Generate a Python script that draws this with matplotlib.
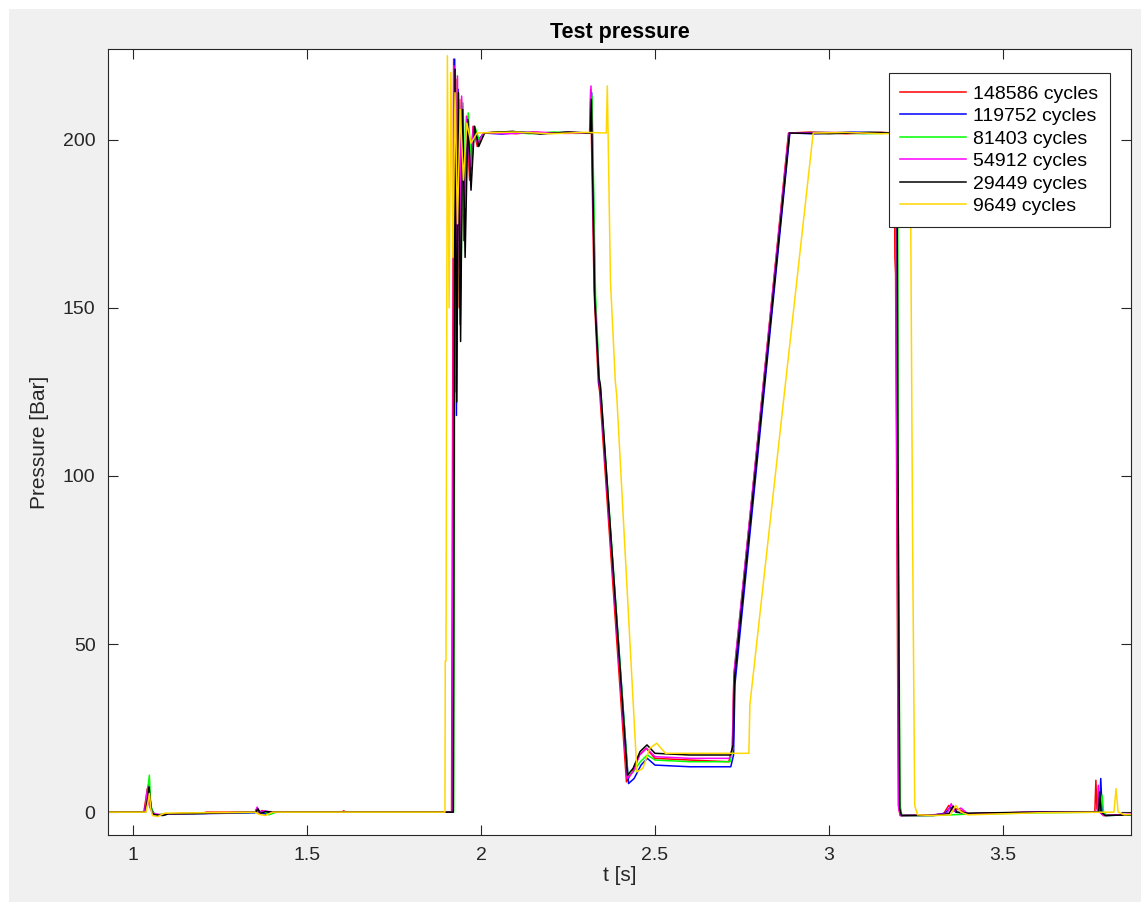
import numpy as np
from matplotlib import pyplot as plt
from matplotlib.patches import Rectangle

# pressure traces (t [s], p [bar])
c148586 = [(0.92, 0), (1.030, 0), (1.036, 4), (1.040, 7), (1.044, 3), (1.050, 1), (1.058, -0.5), (1.070, -0.8),
           (1.100, -0.5), (1.200, -0.3), (1.210, 0), (1.350, 0), (1.355, 0.8), (1.360, -0.3), (1.370, 0.5),
           (1.380, -0.6), (1.400, 0), (1.600, 0), (1.605, 0.4), (1.610, 0), (1.915, 0),
           (1.921, 224), (1.926, 125), (1.931, 218), (1.937, 150), (1.943, 212), (1.950, 170), (1.958, 207),
           (1.967, 188), (1.977, 204), (1.989, 198), (2.006, 202),
           (2.050, 202.4), (2.100, 201.8), (2.150, 202.3), (2.200, 201.9), (2.250, 202.2), (2.312, 202),
           (2.315, 215), (2.325, 155), (2.337, 128), (2.341, 125), (2.418, 9), (2.435, 12), (2.455, 17),
           (2.475, 19), (2.500, 16), (2.600, 15.5), (2.712, 15), (2.722, 18), (2.727, 40), (2.884, 202),
           (2.950, 202.3), (3.050, 201.8), (3.150, 202.2), (3.188, 202), (3.190, 165), (3.192, 160),
           (3.200, 2), (3.205, -1), (3.300, -0.8), (3.330, -0.5), (3.345, 2), (3.355, 0.5), (3.370, 1),
           (3.400, -0.5), (3.500, -0.2), (3.600, 0), (3.765, 0), (3.768, 9.5), (3.771, 1), (3.780, 0),
           (3.790, -1), (3.870, -0.7)]
c119752 = [(0.92, 0), (1.032, 0), (1.040, 5), (1.044, 8.3), (1.048, 4), (1.052, 1), (1.060, -0.6), (1.080, -0.9),
           (1.100, -0.6), (1.350, -0.2), (1.356, 1.2), (1.362, 0.3), (1.375, -0.5), (1.390, 0), (1.919, 0),
           (1.924, 224), (1.929, 118), (1.934, 215), (1.940, 145), (1.946, 210), (1.953, 175), (1.961, 206),
           (1.970, 190), (1.980, 203), (1.992, 200), (2.009, 202),
           (2.060, 201.7), (2.120, 202.3), (2.180, 201.9), (2.240, 202.2), (2.315, 202), (2.318, 214),
           (2.328, 153), (2.340, 127), (2.344, 124), (2.424, 8.5), (2.440, 10), (2.460, 14), (2.478, 16),
           (2.500, 14), (2.600, 13.5), (2.718, 13.5), (2.726, 17), (2.730, 38), (2.888, 202),
           (2.960, 201.8), (3.060, 202.3), (3.196, 202), (3.198, 100), (3.203, 3), (3.208, -1),
           (3.300, -0.9), (3.335, -0.3), (3.350, 1.5), (3.365, 0), (3.400, -0.5), (3.600, 0), (3.778, 0),
           (3.782, 10), (3.786, 0.5), (3.795, -1), (3.870, -0.8)]
c81403 = [(0.92, 0), (1.034, 0), (1.040, 6), (1.046, 11), (1.050, 2), (1.056, 0), (1.065, -0.8), (1.100, -0.5),
          (1.380, 0), (1.390, -0.8), (1.410, 0), (1.921, 0),
          (1.926, 220), (1.931, 140), (1.936, 212), (1.942, 155), (1.948, 211), (1.955, 180), (1.963, 208),
          (1.972, 192), (1.982, 204), (1.994, 200), (2.011, 202),
          (2.070, 202.4), (2.140, 201.8), (2.210, 202.3), (2.270, 201.9), (2.316, 202), (2.319, 213),
          (2.329, 154), (2.340, 129), (2.344, 126), (2.422, 11), (2.438, 12), (2.458, 15), (2.478, 17),
          (2.500, 15.5), (2.600, 15), (2.716, 15), (2.724, 19), (2.728, 42), (2.886, 202), (2.980, 202.2),
          (3.100, 201.8), (3.198, 202), (3.200, 85), (3.205, 2), (3.210, -1), (3.300, -1), (3.400, -0.6),
          (3.600, -0.2), (3.780, 0), (3.786, 5), (3.790, 0), (3.800, -1), (3.870, -0.8)]
c54912 = [(0.92, 0), (1.033, 0), (1.038, 5), (1.042, 7.5), (1.046, 2), (1.055, -0.4), (1.080, -0.8), (1.100, -0.5),
          (1.350, 0), (1.356, 1.5), (1.362, -0.2), (1.375, 0.4), (1.400, 0), (1.917, 0),
          (1.922, 222), (1.927, 130), (1.932, 219), (1.938, 160), (1.944, 213), (1.951, 178), (1.959, 207),
          (1.968, 190), (1.978, 204), (1.990, 199), (2.007, 202),
          (2.080, 201.8), (2.160, 202.3), (2.240, 201.9), (2.313, 202), (2.316, 216), (2.326, 156),
          (2.338, 130), (2.342, 127), (2.420, 10), (2.437, 12), (2.456, 17), (2.476, 19), (2.500, 16.5),
          (2.600, 16), (2.714, 16), (2.723, 19), (2.727, 41), (2.885, 202), (3.000, 202.2), (3.100, 201.9),
          (3.192, 202), (3.194, 140), (3.201, 1), (3.206, -1), (3.300, -0.9), (3.340, -0.4), (3.352, 2.5),
          (3.360, 0.3), (3.380, 1.2), (3.400, -0.5), (3.600, 0), (3.772, 0), (3.775, 8), (3.779, 0),
          (3.790, -1), (3.870, -0.6)]
c29449 = [(0.92, 0), (1.035, 0), (1.041, 4), (1.045, 7.5), (1.049, 3), (1.053, 0), (1.060, -0.8), (1.085, -1),
          (1.100, -0.5), (1.200, -0.4), (1.230, -0.3), (1.260, -0.2), (1.352, 0), (1.358, 1), (1.365, -0.4),
          (1.380, 0.2), (1.400, 0), (1.650, 0), (1.920, 0),
          (1.925, 221), (1.930, 122), (1.935, 214), (1.941, 140), (1.947, 209), (1.954, 165), (1.962, 206),
          (1.971, 185), (1.981, 204), (1.993, 198), (2.010, 202),
          (2.090, 202.5), (2.170, 201.7), (2.250, 202.3), (2.314, 202), (2.317, 212), (2.327, 152),
          (2.339, 129), (2.343, 127), (2.421, 11), (2.437, 13), (2.457, 18), (2.477, 20), (2.500, 17.5),
          (2.600, 17), (2.717, 17), (2.725, 20), (2.729, 40), (2.887, 202), (3.000, 201.8), (3.120, 202.2),
          (3.196, 202), (3.198, 120), (3.204, 1), (3.209, -1), (3.300, -1), (3.345, -0.5), (3.358, 1.8),
          (3.368, 0), (3.400, -0.3), (3.600, 0), (3.776, 0), (3.779, 6), (3.783, 0), (3.795, -1), (3.870, -0.8)]
c9649 = [(0.92, 0), (1.036, 0), (1.042, 3), (1.046, 5.6), (1.050, 1), (1.055, -1), (1.070, -1.3), (1.090, -0.3),
         (1.350, 0), (1.360, -0.6), (1.380, -1), (1.400, 0), (1.896, 0), (1.897, 45), (1.899, 45),
         (1.903, 225), (1.908, 150), (1.913, 220), (1.919, 165), (1.925, 214), (1.932, 175), (1.940, 209),
         (1.949, 188), (1.959, 205), (1.971, 199), (1.988, 202),
         (2.100, 202.3), (2.200, 201.8), (2.300, 202.2), (2.360, 202), (2.363, 216), (2.372, 158),
         (2.386, 128), (2.390, 124), (2.448, 12), (2.465, 13), (2.485, 19), (2.505, 20.5), (2.530, 17.5),
         (2.650, 17.5), (2.770, 17.5), (2.773, 32), (2.955, 202), (3.050, 202.2), (3.150, 201.8),
         (3.234, 202), (3.237, 150), (3.241, 80), (3.247, 2), (3.255, -0.8), (3.300, -1), (3.350, -0.8),
         (3.365, 2), (3.380, 0), (3.400, -0.8), (3.600, -0.2), (3.820, 0), (3.826, 7), (3.832, 0),
         (3.850, -0.8), (3.870, -0.7)]

series = [c148586, c119752, c81403, c54912, c29449, c9649]
labels = ['148586 cycles', '119752 cycles', '81403 cycles', '54912 cycles', '29449 cycles', '9649 cycles']
colors = ['#FF0000', '#0000FF', '#00FF00', '#FF00FF', '#000000', '#FFD700']

plt.rcParams['font.family'] = ['Liberation Sans', 'DejaVu Sans']

fig = plt.figure(figsize=(11.41, 9.02), dpi=100, facecolor='white')
fig.add_artist(Rectangle((9 / 1141, 0), 1, 1 - 9 / 902, transform=fig.transFigure,
                         facecolor='#F0F0F0', edgecolor='none', zorder=-10))
ax = fig.add_axes([108 / 1141, 1 - 835 / 902, 1023 / 1141, 786 / 902])

for data, lab, col in zip(series, labels, colors):
    d = np.array(data)
    ax.plot(d[:, 0], d[:, 1], color=col, lw=1.1, label=lab)

ax.set_xlim(0.927, 3.869)
ax.set_ylim(-6.8, 227)
ax.set_xticks([1, 1.5, 2, 2.5, 3, 3.5])
ax.set_xticklabels(['1', '1.5', '2', '2.5', '3', '3.5'])
ax.set_yticks([0, 50, 100, 150, 200])
ax.tick_params(direction='in', length=7, width=0.8, top=True, right=True,
               labelsize=14, colors='#262626', pad=9)
for s in ax.spines.values():
    s.set_color('#262626')
    s.set_linewidth(0.8)

ax.set_title('Test pressure', fontsize=15.5, fontweight='bold', color='black', pad=8)
ax.set_xlabel('t [s]', fontsize=15, color='#262626', labelpad=1)
ax.set_ylabel('Pressure [Bar]', fontsize=15, color='#262626', labelpad=10)

leg = ax.legend(loc='upper right', bbox_to_anchor=(0.9795, 0.969), fontsize=14, frameon=True,
                fancybox=False, framealpha=1, edgecolor='#262626', borderpad=0.6,
                labelspacing=0.25, handlelength=3.4, handletextpad=0.35, borderaxespad=0)
leg.get_frame().set_linewidth(0.8)

plt.savefig('out.png', dpi=100, facecolor=fig.get_facecolor())
